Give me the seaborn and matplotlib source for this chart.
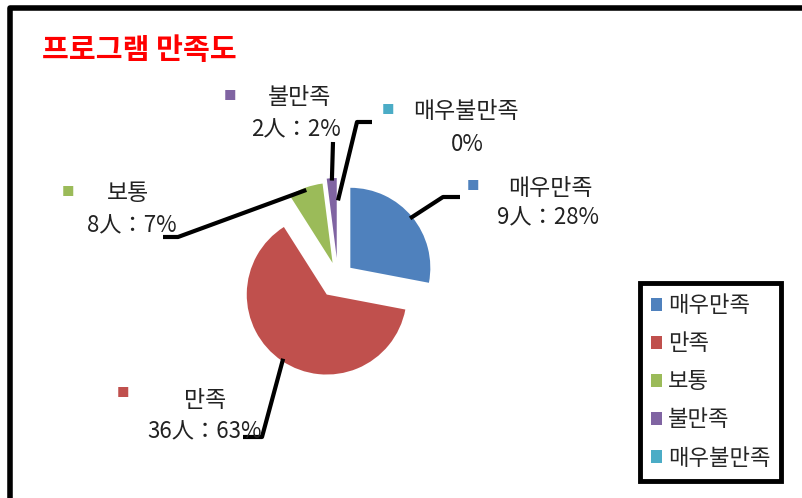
import numpy as np
import matplotlib.pyplot as plt
import seaborn as sns

# chart data
categories = ["매우만족", "만족", "보통", "불만족", "매우불만족"]
shares = [28, 63, 7, 2, 0]
value_labels = ["9人：28%", "36人：63%", "8人：7%", "2人：2%", "0%"]
colors = ["#4F81BD", "#C0504D", "#9BBB59", "#8064A2", "#4BACC6"]
title = "프로그램 만족도"

W, H = 803, 498

sns.set_theme(style="white")
plt.rcParams["font.family"] = ["Noto Sans CJK KR", "DejaVu Sans"]


def fx(px):
    return px / W


def fy(py):
    return 1 - py / H


fig = plt.figure(figsize=(W / 100, H / 100), dpi=100)
fig.patch.set_facecolor("white")

# pie: radius 1 ~ 80px, centre around (338, 278)
ax = fig.add_axes([fx(218), fy(398), 240 / W, 240 / H])
explode = [0.2, 0.25, 0.2, 0.25, 0.0]
wedges, _ = ax.pie(shares, colors=colors, explode=explode, startangle=90,
                   counterclock=False, wedgeprops=dict(linewidth=0))
ax.set_xlim(-1.5, 1.5)
ax.set_ylim(-1.5, 1.5)
ax.set_aspect("equal")
ax.axis("off")

# label placement (pixels): name row, value row, marker, leader elbow, leader end
name_pos = [(550, 188), (205, 400), (128, 193), (300, 98), (466, 112)]
value_pos = [(548, 218), (205, 432), (132, 226), (296, 130), (467, 144)]
marker_pos = [(473, 186), (123, 393), (68, 192), (230, 96), (388, 110)]
elbows = [(443, 197), (262, 437), (178, 237), (333, 142), (357, 122)]
ends = [(460, 197), (243, 437), (163, 237), (333, 142), (372, 122)]

inv = fig.transFigure.inverted()
for i, w in enumerate(wedges):
    mid = np.deg2rad((w.theta1 + w.theta2) / 2)
    r = w.r * 0.97
    pt = (w.center[0] + r * np.cos(mid), w.center[1] + r * np.sin(mid))
    sx, sy = inv.transform(ax.transData.transform(pt))
    xs = [sx, fx(elbows[i][0]), fx(ends[i][0])]
    ys = [sy, fy(elbows[i][1]), fy(ends[i][1])]
    fig.add_artist(plt.Line2D(xs, ys, transform=fig.transFigure,
                              color="black", lw=3, solid_capstyle="butt"))

    fig.text(fx(name_pos[i][0]), fy(name_pos[i][1]), categories[i],
             ha="center", va="center", fontsize=16.5, color="#222222")
    fig.text(fx(value_pos[i][0]), fy(value_pos[i][1]), value_labels[i],
             ha="center", va="center", fontsize=16, color="#222222")
    fig.text(fx(marker_pos[i][0]), fy(marker_pos[i][1]), "■",
             ha="center", va="center", fontsize=9, color=colors[i])

fig.text(fx(42), fy(50), title, color="red", fontsize=21,
         fontweight="bold", ha="left", va="center")

leg = fig.legend(wedges, categories, loc="upper left",
                 bbox_to_anchor=(fx(640), fy(283)), frameon=True,
                 fancybox=False, edgecolor="black", framealpha=1,
                 fontsize=16, handlelength=0.5, handleheight=0.5,
                 handletextpad=0.25, labelspacing=0.68, borderpad=0.5,
                 borderaxespad=0)
leg.get_frame().set_linewidth(3.5)

# outer frame (left and top edges visible)
fig.add_artist(plt.Line2D([fx(10), fx(10), fx(803)], [fy(498), fy(8), fy(8)],
                          transform=fig.transFigure, color="black", lw=4))

fig.savefig("out.png", dpi=100)
